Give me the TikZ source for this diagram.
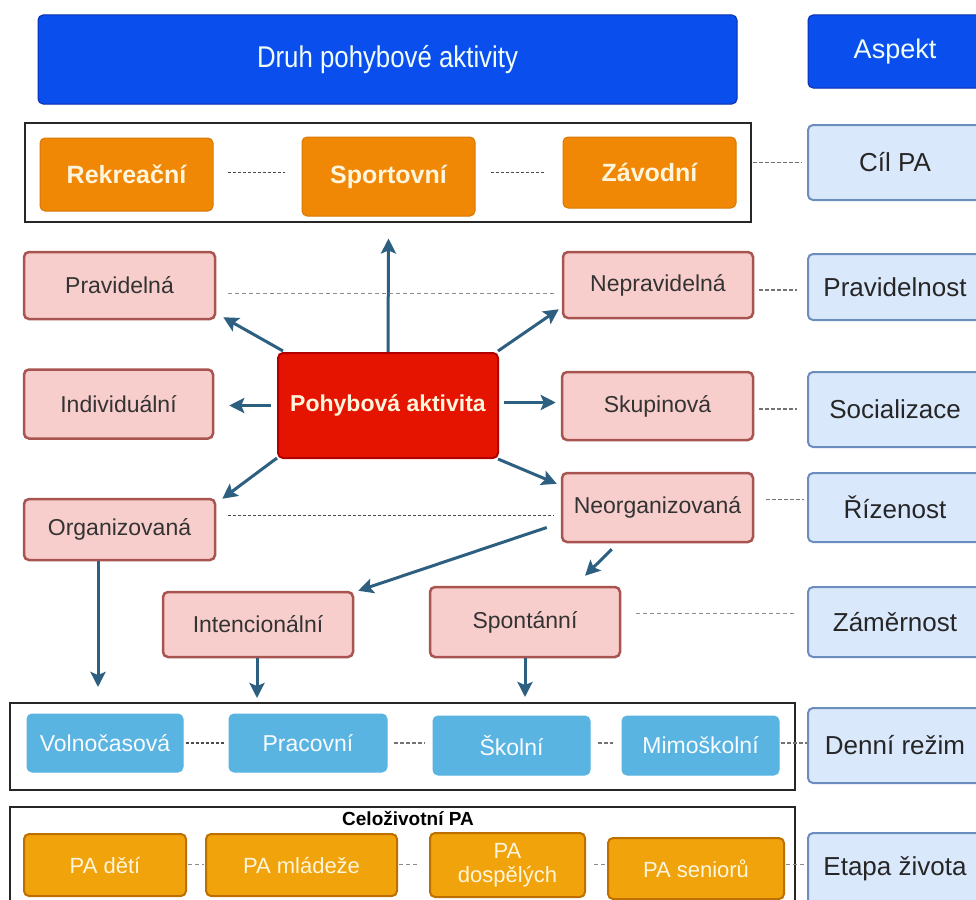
\documentclass[tikz,border=0pt]{standalone}
\usepackage{fontspec}
\setmainfont{Liberation Sans}
\usetikzlibrary{calc,arrows.meta}
\definecolor{hdrblue}{HTML}{0A4FEE}
\definecolor{hdrstroke}{HTML}{0A2FB0}
\definecolor{pinkfill}{HTML}{F8CECC}
\definecolor{pinkstroke}{HTML}{A85450}
\definecolor{aspfill}{HTML}{DAE8FC}
\definecolor{aspstroke}{HTML}{6C8EBF}
\definecolor{orgfill}{HTML}{F08705}
\definecolor{redfill}{HTML}{E51400}
\definecolor{redstroke}{HTML}{B20000}
\definecolor{skyfill}{HTML}{5AB4E2}
\definecolor{amberfill}{HTML}{F0A30A}
\definecolor{amberstroke}{HTML}{BD7000}
\definecolor{arrcol}{HTML}{2D5F80}
\definecolor{cream}{HTML}{FFF5DC}
\begin{document}
\begin{tikzpicture}[x=1pt,y=-1pt,
  box/.style={rounded corners=5pt,minimum width=#1,inner sep=0pt,align=center},
  hdr/.style={box=#1,fill=hdrblue,draw=hdrstroke,line width=1pt,text=cream!80!cyan!30!white},
  pinkbox/.style={box=#1,fill=pinkfill,draw=pinkstroke,line width=2.5pt,text=black!80,font=\fontsize{23}{27}\selectfont},
  aspbox/.style={box=#1,fill=aspfill,draw=aspstroke,line width=2pt,text=black!85,font=\fontsize{26}{30}\selectfont},
  orbox/.style={box=#1,fill=orgfill,draw=orgfill!90!black,line width=1pt,text=cream,font=\bfseries\fontsize{25}{29}\selectfont},
  redbox/.style={box=#1,fill=redfill,draw=redstroke,line width=2pt,text=cream,font=\bfseries\fontsize{23}{27}\selectfont},
  skybox/.style={box=#1,fill=skyfill,draw=skyfill,line width=1pt,text=white!95!skyfill,font=\fontsize{23}{27}\selectfont},
  ambox/.style={box=#1,fill=amberfill,draw=amberstroke,line width=2pt,text=cream,font=\fontsize{22}{24}\selectfont},
  grp/.style={draw=black!85,line width=1.3pt},
  arr/.style={draw=arrcol,line width=3pt,-{Stealth[length=15pt,width=15pt,inset=3pt]}},
  dk/.style={draw=black!70,line width=1.3pt,dash pattern=on 3pt off 2pt},
  gr/.style={draw=black!55,line width=1.2pt,dash pattern=on 4pt off 2pt},
  lg/.style={draw=black!45,line width=1pt,dash pattern=on 4pt off 3pt},
]
\useasboundingbox[fill=white] (0,0) rectangle (976,899);

% header
\node[hdr=699pt,minimum height=89pt,font=\fontsize{30}{34}\selectfont] (druh) at (387.5,59.5) {\raisebox{-4pt}{\scalebox{0.86}[1]{Druh pohybové aktivity}}};
\node[hdr=174pt,minimum height=73pt,font=\fontsize{27}{31}\selectfont] (asp) at (895,51.5) {Aspekt};

% row 1: goal
\draw[grp] (25,123) rectangle (751,222);
\node[orbox=173pt,minimum height=73pt] (rek) at (126.5,174.5) {Rekreační};
\node[orbox=173pt,minimum height=79pt] (spo) at (388.5,176.5) {Sportovní};
\node[orbox=173pt,minimum height=71pt] (zav) at (649.5,172.5) {Závodní};
\node[aspbox=174pt,minimum height=75pt] (cil) at (895,162.5) {Cíl PA};

% row 2
\node[pinkbox=191pt,minimum height=67pt] (prav) at (119.5,285.5) {Pravidelná};
\node[pinkbox=190pt,minimum height=66pt] (neprav) at (658,285) {Nepravidelná};
\node[aspbox=174pt,minimum height=66pt] (pravost) at (895,287) {Pravidelnost};

% row 3
\node[pinkbox=189pt,minimum height=69pt] (ind) at (118.5,404) {Individuální};
\node[redbox=220pt,minimum height=105pt] (pohyb) at (388,405.5) {Pohybová aktivita};
\node[pinkbox=191pt,minimum height=68pt] (skup) at (657.5,406) {Skupinová};
\node[aspbox=174pt,minimum height=75pt] (soc) at (895,409.5) {Socializace};

% row 4
\node[pinkbox=191pt,minimum height=61pt] (org) at (119.5,529.5) {Organizovaná};
\node[pinkbox=191pt,minimum height=69pt] (neorg) at (657.5,507.5) {Neorganizovaná};
\node[aspbox=174pt,minimum height=69pt] (riz) at (895,507.5) {Řízenost};

% row 5
\node[pinkbox=190pt,minimum height=65pt] (inten) at (258,624.5) {Intencionální};
\node[pinkbox=190pt,minimum height=70pt] (spont) at (525,622) {Spontánní};
\node[aspbox=174pt,minimum height=70pt] (zam) at (895,622) {Záměrnost};

% row 6: daily regime
\draw[grp] (10,703) rectangle (795,790);
\node[skybox=156pt,minimum height=58pt] (voln) at (105,743) {Volnočasová};
\node[skybox=158pt,minimum height=58pt] (prac) at (308,743) {Pracovní};
\node[skybox=157pt,minimum height=59pt] (skol) at (511.5,745.5) {Školní};
\node[skybox=157pt,minimum height=59pt] (mimo) at (700.5,745.5) {Mimoškolní};
\node[aspbox=174pt,minimum height=75pt] (denni) at (895,745.5) {Denní režim};

% row 7: life stage
\draw[grp] (10,807) rectangle (795,912);
\node[font=\bfseries\fontsize{19}{22}\selectfont,text=black,inner sep=0pt] (celo) at (408,818) {Celoživotní PA};
\node[ambox=162pt,minimum height=62pt] (deti) at (105,865) {PA dětí};
\node[ambox=191pt,minimum height=62pt] (mlad) at (301.5,865) {PA mládeže};
\node[ambox=155pt,minimum height=64pt] (dosp) at (507.5,865) {PA\\dospělých};
\node[ambox=176pt,minimum height=61pt] (sen) at (696,868.5) {PA seniorů};
\node[aspbox=174pt,minimum height=72pt] (etapa) at (895,869) {Etapa života};

% arrows
\coordinate (orgend) at (98,687);
\coordinate (intend) at (257,698);
\coordinate (spend) at (525,697);
\draw[arr] (pohyb.north) -- ([shift={(0,22)}]spo.south);
\draw[arr] ([shift={(6,-1)}]pohyb.north west) -- ([shift={(7,-3)}]prav.south east);
\draw[arr] ([shift={(-1,-1)}]pohyb.north east) -- ([shift={(-3,-10)}]neprav.south west);
\draw[arr] ([shift={(-6,0)}]pohyb.west) -- ([shift={(15,0)}]pohyb.west -| ind.east);
\draw[arr] ([shift={(5,-3)}]pohyb.east) -- ([shift={(-5,-3)}]pohyb.east -| skup.west);
\draw[arr] ([shift={(0,-1)}]pohyb.south west) -- ([shift={(6,1)}]org.north east);
\draw[arr] ([shift={(-1,0)}]pohyb.south east) -- ([shift={(-4,12)}]neorg.north west);
\draw[arr] ([shift={(-14,20)}]neorg.west) -- ([shift={(4,0)}]inten.north east);
\draw[arr] ([shift={(51,6)}]neorg.south west) -- ([shift={(60,-10)}]spont.north);
\draw[arr] (org.south -| orgend) -- (orgend);
\draw[arr] (inten.south -| intend) -- (intend);
\draw[arr] (spont.south) -- (spend);

% dashed links
\draw[dk] ([shift={(14,-2)}]rek.east) -- ([shift={(-17,-2)}]rek.east -| spo.west);
\draw[dk] ([shift={(15,-4)}]spo.east) -- ([shift={(-18,-4)}]spo.east -| zav.west);
\draw[gr] ([shift={(16,-10)}]zav.east) -- ([shift={(-6,-10)}]zav.east -| cil.west);
\draw[lg] ([shift={(12,8)}]prav.east) -- ([shift={(-8,8)}]prav.east -| neprav.west);
\draw[gr] ([shift={(5,5)}]neprav.east) -- ([shift={(-10,5)}]neprav.east -| pravost.west);
\draw[gr] ([shift={(5,3)}]skup.east) -- ([shift={(-10,3)}]skup.east -| soc.west);
\draw[dk] ([shift={(12,-14)}]org.east) -- ([shift={(-7,-14)}]org.east -| neorg.west);
\draw[gr] ([shift={(12,-8)}]neorg.east) -- ([shift={(-3,-8)}]neorg.east -| riz.west);
\draw[lg] ([shift={(15,-9)}]spont.east) -- ([shift={(-13,-9)}]spont.east -| zam.west);
\draw[dk] ([shift={(2,0)}]voln.east) -- ([shift={(-4,0)}]prac.west);
\draw[gr] ([shift={(6,0)}]prac.east) -- ([shift={(-8,-2.5)}]skol.west);
\draw[gr] ([shift={(7,-2.5)}]skol.east) -- ([shift={(-9,-2.5)}]mimo.west);
\draw[gr] ([shift={(1,-2.5)}]mimo.east) -- ([shift={(0,-2.5)}]mimo.east -| denni.west);
\draw[lg] ([shift={(1,-1)}]deti.east) -- ([shift={(-1,-1)}]mlad.west);
\draw[lg] ([shift={(1,-1)}]mlad.east) -- ([shift={(-12,-1)}]dosp.west);
\draw[lg] ([shift={(8,-1)}]dosp.east) -- ([shift={(-1,-4.5)}]sen.west);
\draw[lg] ([shift={(1,-4.5)}]sen.east) -- ([shift={(0,-4.5)}]sen.east -| etapa.west);
\end{tikzpicture}
\end{document}
